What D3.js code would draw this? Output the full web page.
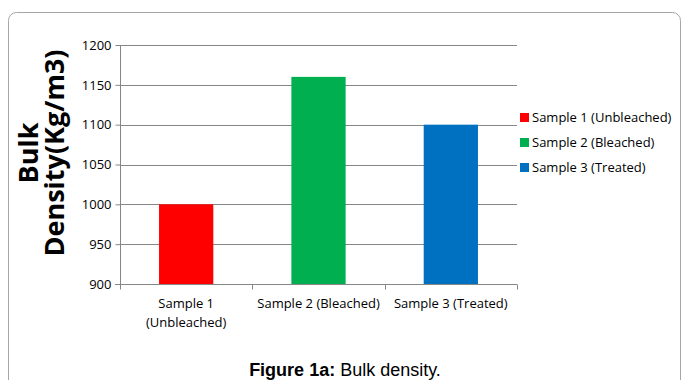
<!DOCTYPE html>
<html>
<head>
<meta charset="utf-8">
<script src="https://cdn.jsdelivr.net/npm/d3@7"></script>
<style>
  html, body { margin: 0; padding: 0; background: #fff; }
  svg { display: block; }
</style>
</head>
<body>
<svg id="chart" width="683" height="380"></svg>
<script>
const categories = ["Sample 1 (Unbleached)", "Sample 2 (Bleached)", "Sample 3 (Treated)"];
const categoryLabels = [["Sample 1", "(Unbleached)"], ["Sample 2 (Bleached)"], ["Sample 3 (Treated)"]];
const values = [1000, 1160, 1100];
const colors = ["#ff0000", "#00b050", "#0070c0"];
const yTicks = [900, 950, 1000, 1050, 1100, 1150, 1200];

const svg = d3.select("#chart");
const labelFont = "'Open Sans', sans-serif";

// frame around the chart
svg.append("rect")
  .attr("x", 8.5).attr("y", 12.5)
  .attr("width", 672).attr("height", 400)
  .attr("rx", 8).attr("ry", 8)
  .attr("fill", "none").attr("stroke", "#a6a6a6").attr("stroke-width", 1);

const plot = { left: 120, right: 517, top: 45, bottom: 284 };

const x = d3.scaleBand().domain(categories).range([plot.left, plot.right]).paddingInner(0.59).paddingOuter(0.295);
const xOuter = d3.scaleBand().domain(categories).range([plot.left, plot.right]);
const y = d3.scaleLinear().domain([900, 1200]).range([plot.bottom, plot.top]);

// horizontal gridlines
svg.append("g").selectAll("line").data(yTicks.slice(1)).join("line")
  .attr("x1", plot.left).attr("x2", plot.right)
  .attr("y1", d => Math.round(y(d)) + 0.5).attr("y2", d => Math.round(y(d)) + 0.5)
  .attr("stroke", "#868686").attr("stroke-width", 1);

// bars
svg.append("g").selectAll("rect").data(values).join("rect")
  .attr("x", (d, i) => x(categories[i]))
  .attr("width", x.bandwidth())
  .attr("y", d => y(d))
  .attr("height", d => y(900) - y(d))
  .attr("fill", (d, i) => colors[i]);

// y axis
const yAxis = d3.axisLeft(y).tickValues(yTicks).tickSize(5).tickPadding(4).tickFormat(d3.format("d"));
const gy = svg.append("g").attr("transform", `translate(${plot.left + 0.5},0)`).call(yAxis);
gy.select(".domain").attr("stroke", "#868686").attr("d", `M0,${plot.top}V${plot.bottom}`);
gy.selectAll(".tick line").attr("stroke", "#868686");
gy.selectAll(".tick text").attr("font-family", labelFont).attr("font-size", 13).attr("fill", "#000");

// x axis with ticks at category boundaries
const gx = svg.append("g").attr("transform", `translate(0,${plot.bottom + 0.5})`);
gx.append("line").attr("x1", plot.left - 5).attr("x2", plot.right)
  .attr("stroke", "#868686");
const bounds = categories.map(c => xOuter(c)).concat([plot.right]);
gx.selectAll("line.tk").data(bounds).join("line").attr("class", "tk")
  .attr("x1", d => Math.round(d) + 0.5).attr("x2", d => Math.round(d) + 0.5)
  .attr("y1", 0).attr("y2", 5).attr("stroke", "#868686");
gx.selectAll("text").data(categoryLabels).join("text")
  .attr("x", (d, i) => xOuter(categories[i]) + xOuter.bandwidth() / 2)
  .attr("y", 23)
  .attr("text-anchor", "middle")
  .attr("font-family", labelFont).attr("font-size", 13).attr("fill", "#000")
  .selectAll("tspan").data(d => d).join("tspan")
  .attr("x", function() { return d3.select(this.parentNode).attr("x"); })
  .attr("dy", (d, i) => i === 0 ? 0 : 19)
  .text(d => d);

// y axis title
const title = svg.append("text")
  .attr("transform", "rotate(-90)")
  .attr("text-anchor", "middle")
  .attr("font-family", "'Open Sans', 'DejaVu Sans', sans-serif")
  .attr("font-weight", "bold").attr("font-size", 27).attr("fill", "#000");
title.append("tspan").attr("x", -153).attr("y", 38).text("Bulk");
title.append("tspan").attr("x", -153).attr("y", 64).text("Density(Kg/m3)");

// legend
const legend = svg.append("g").selectAll("g").data(categories).join("g")
  .attr("transform", (d, i) => `translate(520,${113 + i * 25})`);
legend.append("rect").attr("width", 9).attr("height", 9).attr("fill", (d, i) => colors[i]);
legend.append("text").attr("x", 12).attr("y", 9)
  .attr("font-family", labelFont).attr("font-size", 13).attr("fill", "#000")
  .text(d => d);

// caption
const cap = svg.append("text").attr("x", 345).attr("y", 375.5).attr("text-anchor", "middle")
  .attr("font-family", "'Liberation Sans', Arial, sans-serif").attr("font-size", 18).attr("fill", "#000");
cap.append("tspan").attr("font-weight", "bold").text("Figure 1a:");
cap.append("tspan").text(" Bulk density.");
</script>
</body>
</html>
